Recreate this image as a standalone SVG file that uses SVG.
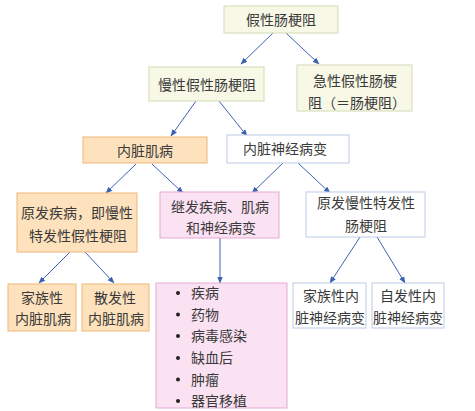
<svg xmlns="http://www.w3.org/2000/svg" width="475" height="411" viewBox="0 0 475 411">
<defs>
<style>
text{font-family:"Noto Sans CJK SC","Noto Sans CJK JP",sans-serif;font-size:14px;fill:#3a3a3a;}
.c{text-anchor:middle;}
.g{fill:#f8f8e6;stroke:#d6dab6;stroke-width:1;}
.o{fill:#fde2bd;stroke:#f0b676;stroke-width:1;}
.p{fill:#fbe2f3;stroke:#e6a9d6;stroke-width:1;}
.w{fill:#ffffff;stroke:#bccbe6;stroke-width:1;}
.e{stroke:#3b63b3;stroke-width:1;fill:none;marker-end:url(#ah);}
</style>
<marker id="ah" viewBox="0 0 10 10" refX="9" refY="5" markerWidth="7" markerHeight="7" orient="auto" markerUnits="userSpaceOnUse">
<path d="M0,1 L10,5 L0,9 z" fill="#3b63b3"/>
</marker>
</defs>
<rect width="475" height="411" fill="#ffffff"/>
<g id="connectors">
<line class="e" x1="273" y1="33" x2="241" y2="64"/>
<line class="e" x1="286" y1="33" x2="319" y2="64"/>
<line class="e" x1="196" y1="101" x2="171" y2="136"/>
<line class="e" x1="219" y1="101" x2="247" y2="136"/>
<line class="e" x1="136" y1="164" x2="106" y2="193"/>
<line class="e" x1="152" y1="164" x2="183" y2="193"/>
<line class="e" x1="283" y1="163" x2="252" y2="193"/>
<line class="e" x1="298" y1="163" x2="330" y2="193"/>
<line class="e" x1="70" y1="252" x2="39" y2="283"/>
<line class="e" x1="85" y1="252" x2="114" y2="283"/>
<line class="e" x1="220" y1="238" x2="220" y2="283"/>
<line class="e" x1="360" y1="237" x2="330" y2="283"/>
<line class="e" x1="377" y1="237" x2="405" y2="283"/>
</g>
<g id="n1"><rect class="g" x="224" y="6" width="114" height="27"/><text class="c" x="281" y="24.5">假性肠梗阻</text></g>
<g id="n2"><rect class="g" x="149" y="67" width="115" height="34"/><text class="c" x="207" y="90">慢性假性肠梗阻</text></g>
<g id="n3"><rect class="g" x="297" y="65" width="115" height="46"/><text x="313" y="86">急性假性肠梗</text><text x="308" y="108">阻（＝肠梗阻）</text></g>
<g id="n4"><rect class="o" x="83" y="137" width="124" height="26"/><text class="c" x="145" y="155.5">内脏肌病</text></g>
<g id="n5"><rect class="w" x="227" y="135" width="122" height="28"/><text class="c" x="285" y="154">内脏神经病变</text></g>
<g id="n6"><rect class="o" x="17" y="193" width="120" height="59"/><text class="c" x="77" y="218">原发疾病，即慢性</text><text class="c" x="78" y="241">特发性假性梗阻</text></g>
<g id="n7"><rect class="p" x="160" y="192" width="119" height="46"/><text class="c" x="220" y="212">继发疾病、肌病</text><text class="c" x="221" y="233">和神经病变</text></g>
<g id="n8"><rect class="w" x="306" y="192" width="119" height="45"/><text class="c" x="366" y="208">原发慢性特发性</text><text class="c" x="366" y="231">肠梗阻</text></g>
<g id="n9"><rect class="o" x="8" y="284" width="68" height="47"/><text class="c" x="42" y="303">家族性</text><text class="c" x="43" y="324">内脏肌病</text></g>
<g id="n10"><rect class="o" x="82" y="284" width="67" height="47"/><text class="c" x="115" y="303">散发性</text><text class="c" x="116" y="324">内脏肌病</text></g>
<g id="n11"><rect class="p" x="156" y="283" width="131" height="125"/>
<g fill="#222"><circle cx="178" cy="293" r="2"/><circle cx="178" cy="314.5" r="2"/><circle cx="178" cy="336" r="2"/><circle cx="178" cy="358" r="2"/><circle cx="178" cy="379.5" r="2"/><circle cx="178" cy="401" r="2"/></g>
<text x="191" y="298">疾病</text><text x="191" y="319.5">药物</text><text x="191" y="341">病毒感染</text><text x="191" y="363">缺血后</text><text x="191" y="384.5">肿瘤</text><text x="191" y="406">器官移植</text></g>
<g id="n12"><rect class="w" x="293" y="283" width="73" height="45"/><text class="c" x="331" y="301">家族性内</text><text class="c" x="330" y="323">脏神经病变</text></g>
<g id="n13"><rect class="w" x="372" y="283" width="72" height="45"/><text class="c" x="408" y="301">自发性内</text><text class="c" x="408" y="323">脏神经病变</text></g>
</svg>
